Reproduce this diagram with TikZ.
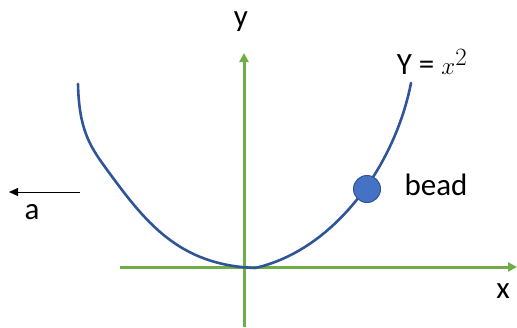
\documentclass[tikz,border=0pt]{standalone}
\usepackage{fontspec}
\setmainfont{Carlito}
\usetikzlibrary{arrows.meta}
\definecolor{axisgreen}{HTML}{70AD47}
\definecolor{curveblue}{HTML}{2F5597}
\definecolor{beadblue}{HTML}{4472C4}
\tikzset{
  axisline/.style={draw=axisgreen, line width=3pt, -{Triangle[length=9pt,width=9pt]}},
  curveline/.style={draw=curveblue, line width=2.6pt, line cap=round},
  lbl/.style={font=\fontsize{31}{36}\selectfont, inner sep=0pt, text=black},
  accarrow/.style={draw=black, line width=1pt, -{Triangle[length=9pt,width=8pt]}},
  beaddot/.style={circle, fill=beadblue, draw=curveblue, line width=1pt, minimum size=27pt, inner sep=0pt}
}
\begin{document}
\begin{tikzpicture}[x=1pt,y=-1pt]
\useasboundingbox (0,0) rectangle (517,327);
% axes
\coordinate (xs) at (120,267);
\coordinate (xe) at (517,267);
\coordinate (ys) at (244,327);
\coordinate (ye) at (244,53);
\draw[axisline] (xs) -- (xe);
\draw[axisline] (ys) -- (ye);
% curve
\draw[curveline] (78,84) .. controls (79,128) and (89,145) .. (105,167)
  .. controls (145,222) and (178,265) .. (255,268)
  .. controls (335,250) and (395,165) .. (411,83);
% bead
\node[beaddot] (bead) at (367,189) {};
% labels
\node[lbl] (ylab) at (241,22) {y};
\node[lbl] (xlab) at (503,291) {x};
\node[lbl] (func) at (432,62) {Y = {\fontsize{34}{36}\selectfont$x^{2}$}};
\node[lbl] (beadlab) at (436,185) {bead};
% acceleration
\coordinate (as) at (80,192);
\coordinate (ae) at (9,192);
\draw[accarrow] (as) -- (ae);
\node[lbl] (alab) at (32,212) {a};
\end{tikzpicture}
\end{document}
